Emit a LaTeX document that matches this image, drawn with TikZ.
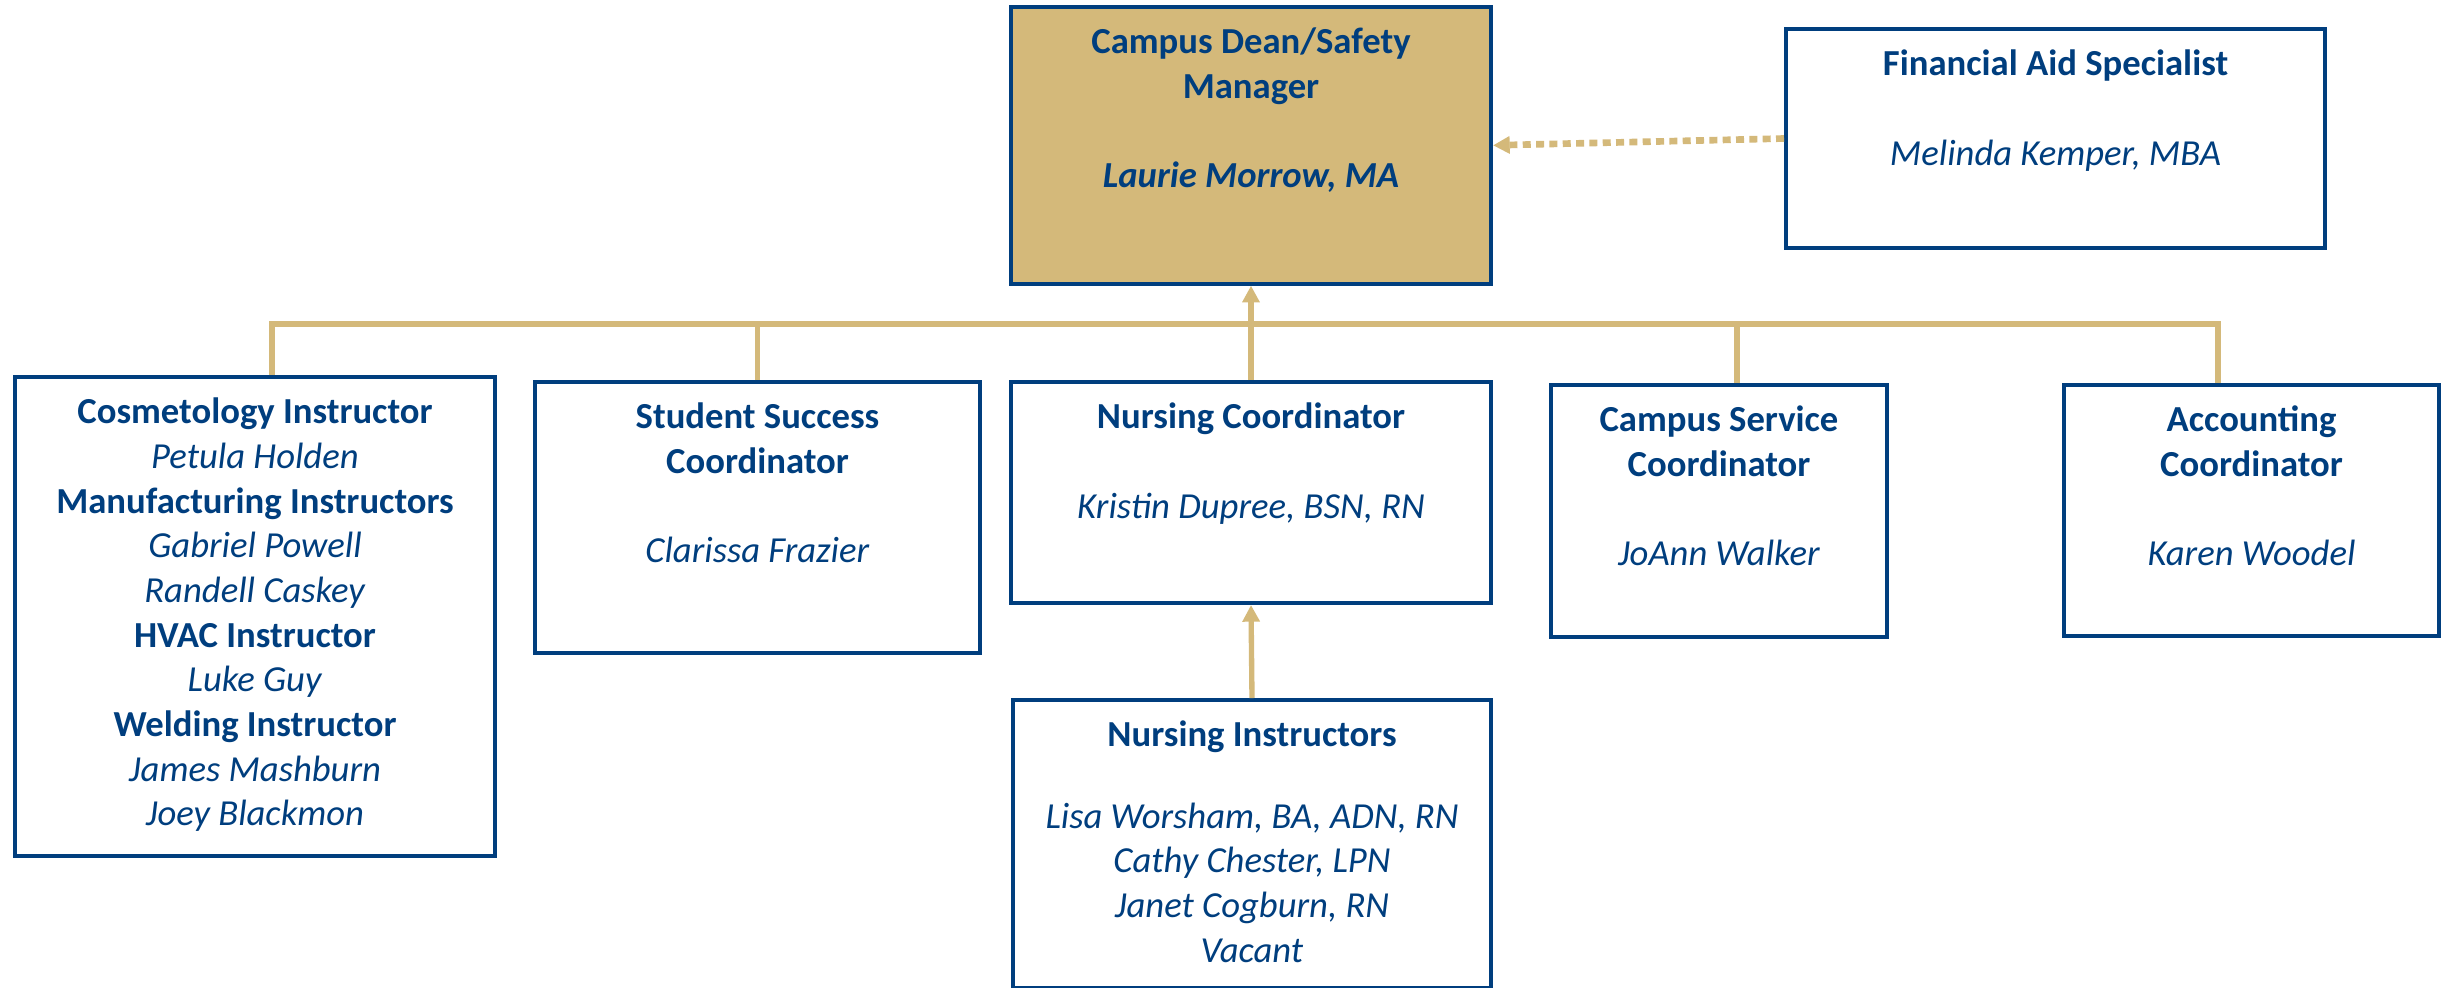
\documentclass[tikz,border=0pt]{standalone}
\usepackage{fontspec}
\setmainfont{Carlito}
\usepackage{xcolor}
\usetikzlibrary{positioning, arrows.meta}
\definecolor{deanblue}{RGB}{0,62,126}
\definecolor{deangold}{RGB}{212,185,122}
\newcommand{\roletext}[3]{\parbox[t][#2][t]{#1}{\vspace*{6.3pt}\centering #3}}

\begin{document}
\begin{tikzpicture}[x=0.3pt, y=-0.3pt,
    post/.style={draw=deanblue, line width=1.2pt, inner sep=0pt, anchor=north west,
        text=deanblue, font=\fontsize{11}{13.4}\selectfont},
    link/.style={draw=deangold, line width=1.6pt},
    tip/.style={-{Triangle[width=5pt, length=5pt]}}]
    \useasboundingbox (0,0) rectangle (2453,987);

    % Top
    \node[post, fill=deangold] (dean) at (1009,5) {\roletext{144pt}{83pt}{%
        \textbf{Campus Dean/Safety\\Manager}\\[13.4pt]\textbf{\textit{Laurie Morrow, MA}}}};
    \node[post] (aid) at (1784,27) {\roletext{161.7pt}{65.7pt}{%
        \textbf{Financial Aid Specialist}\\[13.4pt]\textit{Melinda Kemper, MBA}}};

    % Second row
    \node[post] (cosmo) at (13,375) {\roletext{144pt}{143.7pt}{%
        \textbf{Cosmetology Instructor}\\\textit{Petula Holden}\\
        \textbf{Manufacturing Instructors}\\\textit{Gabriel Powell}\\\textit{Randell Caskey}\\
        \textbf{HVAC Instructor}\\\textit{Luke Guy}\\
        \textbf{Welding Instructor}\\\textit{James Mashburn}\\\textit{Joey Blackmon}}};
    \node[post] (success) at (533,380) {\roletext{133.5pt}{81.3pt}{%
        \textbf{Student Success\\Coordinator}\\[13.4pt]\textit{Clarissa Frazier}}};
    \node[post] (nursing) at (1009,380) {\roletext{144pt}{66.3pt}{%
        \textbf{Nursing Coordinator}\\[13.4pt]\textit{Kristin Dupree, BSN, RN}}};
    \node[post] (service) at (1549,383) {\roletext{100.8pt}{75.6pt}{%
        \textbf{Campus Service\\Coordinator}\\[13.4pt]\textit{JoAnn Walker}}};
    \node[post] (account) at (2062,383) {\roletext{112.5pt}{75.3pt}{%
        \textbf{Accounting\\Coordinator}\\[13.4pt]\textit{Karen Woodel}}};

    % Third row
    \node[post] (instr) at (1011,698) {\roletext{143.4pt}{86.4pt}{%
        \textbf{Nursing Instructors}\\[11pt]\textit{Lisa Worsham, BA, ADN, RN}\\
        \textit{Cathy Chester, LPN}\\\textit{Janet Cogburn, RN}\\\textit{Vacant}}};

    % Bus
    \coordinate (busL) at (272,324);
    \coordinate (busR) at (2218,324);
    \coordinate (busS) at (1737,324);
    \draw[link] (busL |- cosmo.north) -- (busL) -- (busR) -- (busR |- account.north);
    \draw[link] (success.north) -- (success.north |- busL);
    \draw[link] (busS) -- (busS |- service.north);

    % Arrows
    \draw[link, tip] (nursing.north) -- (dean.south);
    \draw[link, tip] (instr.north) -- (nursing.south);
    \draw[link, tip, line width=2pt, dash pattern=on 2.4pt off 1.6pt] (aid.west) -- (dean.east);
\end{tikzpicture}
\end{document}
